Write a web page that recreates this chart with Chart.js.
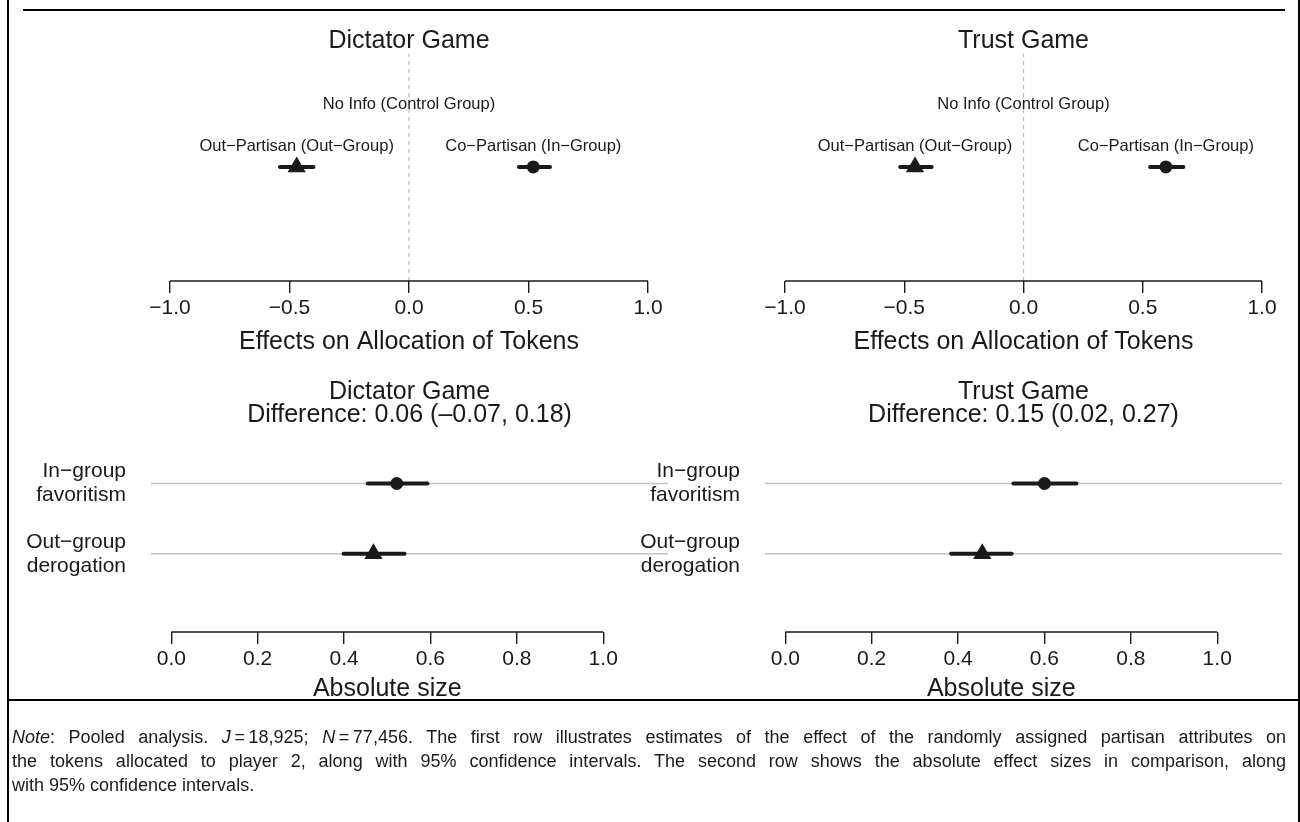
<!DOCTYPE html>
<html>
<head>
<meta charset="utf-8">
<script src="https://cdn.jsdelivr.net/npm/chart.js@4.4.1/dist/chart.umd.min.js"></script>
<style>
  html, body { margin: 0; padding: 0; background: #fff; }
  #wrap { position: relative; width: 1300px; height: 822px; overflow: hidden;
          font-family: "Liberation Sans", Arial, Helvetica, sans-serif; color: #1a1a1a; }
  canvas.p { position: absolute; left: 0; top: 0; }
  .ln { position: absolute; background: #000; }
  #note { position: absolute; left: 12px; top: 725px; width: 1274px; font-size: 18px; line-height: 24px; }
  #note .j { text-align: justify; text-align-last: justify; }
</style>
</head>
<body>
<div id="wrap">
  <canvas class="p" id="c1" width="1300" height="822"></canvas>
  <canvas class="p" id="c2" width="1300" height="822"></canvas>
  <canvas class="p" id="c3" width="1300" height="822"></canvas>
  <canvas class="p" id="c4" width="1300" height="822"></canvas>
  <div class="ln" style="left:7px;top:0;width:2px;height:822px"></div>
  <div class="ln" style="left:1298px;top:0;width:2px;height:822px"></div>
  <div class="ln" style="left:23px;top:9px;width:1262px;height:2px"></div>
  <div class="ln" style="left:8px;top:699px;width:1292px;height:2px"></div>
  <div id="note">
    <div class="j"><i>Note</i>: Pooled analysis. <i>J</i>&#8201;=&#8201;18,925; <i>N</i>&#8201;=&#8201;77,456. The first row illustrates estimates of the effect of the randomly assigned partisan attributes on</div>
    <div class="j">the tokens allocated to player 2, along with 95% confidence intervals. The second row shows the absolute effect sizes in comparison, along</div>
    <div>with 95% confidence intervals.</div>
  </div>
</div>
<script>
// ---------------- data ----------------
const panelTitles = ['Dictator Game', 'Trust Game'];
const diffTexts = ['Difference: 0.06 (–0.07, 0.18)', 'Difference: 0.15 (0.02, 0.27)'];
const topAxisTitle = 'Effects on Allocation of Tokens';
const absAxisTitle = 'Absolute size';

// first row: effects on allocation of tokens
const topRowLabels = ['No Info (Control Group)', 'Out−Partisan (Out−Group)', 'Co−Partisan (In−Group)'];
const topRowPos = [2, 1, 1];
const topMarker = ['none', 'triangle', 'circle'];
const dictatorEst  = [0, -0.47, 0.52];
const dictatorLow  = [null, -0.54, 0.46];
const dictatorHigh = [null, -0.40, 0.59];
const trustEst  = [0, -0.455, 0.597];
const trustLow  = [null, -0.517, 0.531];
const trustHigh = [null, -0.385, 0.670];
const topTickValues = [-1, -0.5, 0, 0.5, 1];
const topTickLabels = ['−1.0', '−0.5', '0.0', '0.5', '1.0'];
const referenceValue = 0;

// second row: absolute effect sizes
const absRowLabels = [['In−group', 'favoritism'], ['Out−group', 'derogation']];
const absRowPos = [2, 1];
const absMarker = ['circle', 'triangle'];
const dictatorAbs     = [0.522, 0.468];
const dictatorAbsLow  = [0.455, 0.399];
const dictatorAbsHigh = [0.593, 0.540];
const trustAbs     = [0.600, 0.456];
const trustAbsLow  = [0.528, 0.384];
const trustAbsHigh = [0.674, 0.524];
const absTickValues = [0, 0.2, 0.4, 0.6, 0.8, 1];
const absTickLabels = ['0.0', '0.2', '0.4', '0.6', '0.8', '1.0'];

// ---------------- style ----------------
const FONT = '"Liberation Sans", Arial, Helvetica, sans-serif';
const INK = '#1a1a1a';
const TITLE_SIZE = 25;
Chart.defaults.font.family = FONT;
Chart.defaults.color = INK;
Chart.defaults.animation = false;
Chart.defaults.responsive = false;
Chart.defaults.plugins.legend.display = false;
Chart.defaults.plugins.tooltip.enabled = false;

function decor(cfg) {
  return {
    id: 'decor',
    afterDatasetsDraw(chart) {
      const ctx = chart.ctx, xs = chart.scales.x, ys = chart.scales.y;
      const y0 = chart.chartArea.bottom;
      const xa = xs.getPixelForValue(cfg.ticks[0]);
      const xb = xs.getPixelForValue(cfg.ticks[cfg.ticks.length - 1]);
      ctx.save();
      ctx.strokeStyle = INK; ctx.lineWidth = 1.4;
      ctx.beginPath(); ctx.moveTo(xa, y0); ctx.lineTo(xb, y0); ctx.stroke();
      ctx.fillStyle = INK; ctx.textAlign = 'center'; ctx.textBaseline = 'middle';
      ctx.font = TITLE_SIZE + 'px ' + FONT;
      ctx.fillText(cfg.axisTitle, (xa + xb) / 2, y0 + cfg.titleOffset);
      if (cfg.pointLabels) {
        ctx.font = '16.5px ' + FONT;
        cfg.pointLabels.forEach((t, i) => {
          ctx.fillText(t, xs.getPixelForValue(cfg.est[i]), ys.getPixelForValue(cfg.rows[i]) - 21);
        });
      }
      ctx.restore();
    }
  };
}

function markerDataset(est, rows, styles) {
  return {
    type: 'scatter', order: 0,
    data: est.map((v, i) => ({ x: v, y: rows[i] })),
    backgroundColor: INK, borderColor: INK, borderWidth: 0,
    pointStyle: c => (styles[c.dataIndex] === 'none' ? 'circle' : styles[c.dataIndex]),
    pointRadius: c => styles[c.dataIndex] === 'none' ? 0 : (styles[c.dataIndex] === 'triangle' ? 10.5 : 6.5),
    pointHoverRadius: 0
  };
}
function ciDatasets(low, high, rows) {
  const out = [];
  low.forEach((lo, i) => {
    if (lo === null) return;
    out.push({
      type: 'line', order: 1,
      data: [{ x: lo, y: rows[i] }, { x: high[i], y: rows[i] }],
      borderColor: INK, borderWidth: 4, borderCapStyle: 'round', pointRadius: 0, fill: false
    });
  });
  return out;
}
function xAxis(min, max, tickVals, tickLabels) {
  return {
    type: 'linear', position: 'bottom', min, max,
    afterBuildTicks: s => { s.ticks = tickVals.map(v => ({ value: v })); },
    afterFit: s => { s.height = 80; },
    grid: { display: true, drawOnChartArea: false, drawTicks: true, tickLength: 12, color: INK, lineWidth: 1.4 },
    border: { display: false },
    ticks: { autoSkip: false, maxRotation: 0, padding: 3, color: INK,
             font: { size: 21, lineHeight: 1.2 },
             callback: (v, i) => tickLabels[i] }
  };
}

function topPanel(id, title, est, low, high, padL, padR) {
  const yMin = -1.741, yMax = 3.727;
  new Chart(document.getElementById(id), {
    type: 'scatter',
    data: {
      datasets: [
        markerDataset(est, topRowPos, topMarker),
        ...ciDatasets(low, high, topRowPos),
        { type: 'line', order: 2, data: [{ x: referenceValue, y: yMin }, { x: referenceValue, y: yMax }],
          borderColor: '#b8b8b8', borderWidth: 1.2, borderDash: [4, 4], pointRadius: 0 }
      ]
    },
    options: {
      layout: { padding: { left: padL, right: padR, top: 0, bottom: 822 - 281 - 80 } },
      plugins: {
        title: { display: true, text: title, fullSize: false, color: INK,
                 font: { size: TITLE_SIZE, weight: 'normal', lineHeight: 1 }, padding: { top: 28.5, bottom: 0 } }
      },
      scales: {
        x: xAxis(-1, 1, topTickValues, topTickLabels),
        y: { type: 'linear', display: false, min: yMin, max: yMax }
      }
    },
    plugins: [decor({ ticks: topTickValues, axisTitle: topAxisTitle, titleOffset: 61,
                      pointLabels: topRowLabels, est: est, rows: topRowPos })]
  });
}

function absPanel(id, titleLines, est, low, high, padL, yWidth, padR) {
  const xMin = -0.047, xMax = 1.15;
  new Chart(document.getElementById(id), {
    type: 'scatter',
    data: {
      datasets: [
        markerDataset(est, absRowPos, absMarker),
        ...ciDatasets(low, high, absRowPos),
        ...absRowPos.map(r => ({ type: 'line', order: 2, data: [{ x: xMin, y: r }, { x: xMax, y: r }],
          borderColor: '#c4c4c4', borderWidth: 1.5, pointRadius: 0 }))
      ]
    },
    options: {
      layout: { padding: { left: padL, right: padR, top: 370, bottom: 822 - 632 - 80 } },
      plugins: {
        title: { display: true, text: titleLines, fullSize: false, color: INK,
                 font: { size: TITLE_SIZE, weight: 'normal', lineHeight: 23 / TITLE_SIZE }, padding: { top: 10.5, bottom: 13.5 } }
      },
      scales: {
        x: xAxis(xMin, xMax, absTickValues, absTickLabels),
        y: { type: 'linear', position: 'left', min: -0.115, max: 2.62,
             afterBuildTicks: s => { s.ticks = absRowPos.map(v => ({ value: v })); },
             afterFit: s => { s.width = yWidth; },
             grid: { display: false, drawTicks: false },
             border: { display: false },
             ticks: { padding: 25, color: INK, font: { size: 21, lineHeight: 24 / 21 },
                      callback: v => absRowLabels[absRowPos.indexOf(v)] } }
      }
    },
    plugins: [decor({ ticks: absTickValues, axisTitle: absAxisTitle, titleOffset: 57 })]
  });
}

topPanel('c1', panelTitles[0], dictatorEst, dictatorLow, dictatorHigh, 170, 1300 - 648);
topPanel('c2', panelTitles[1], trustEst, trustLow, trustHigh, 785, 1300 - 1262);
absPanel('c3', [panelTitles[0], diffTexts[0]], dictatorAbs, dictatorAbsLow, dictatorAbsHigh, 0, 151, 1300 - 668);
absPanel('c4', [panelTitles[1], diffTexts[1]], trustAbs, trustAbsLow, trustAbsHigh, 600, 165, 1300 - 1282);
</script>
</body>
</html>
